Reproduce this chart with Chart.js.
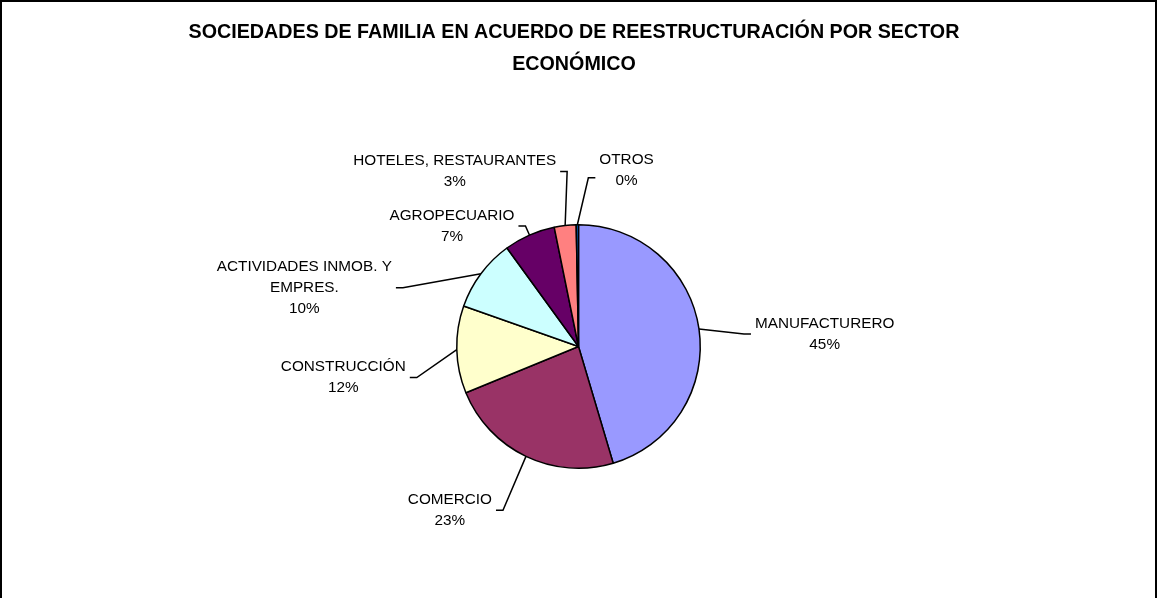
<!DOCTYPE html>
<html>
<head>
<meta charset="utf-8">
<script src="https://cdn.jsdelivr.net/npm/chart.js@4"></script>
<style>
  html, body { margin: 0; padding: 0; background: #fff; }
  #wrap { position: relative; width: 1157px; height: 598px; }
</style>
</head>
<body>
<div id="wrap"><canvas id="myChart"></canvas></div>
<script>
const titleLines = [
  'SOCIEDADES DE FAMILIA EN ACUERDO DE REESTRUCTURACIÓN POR SECTOR',
  'ECONÓMICO',
];

const sectors = [
  ['MANUFACTURERO'],
  ['COMERCIO'],
  ['CONSTRUCCIÓN'],
  ['ACTIVIDADES INMOB. Y', 'EMPRES.'],
  ['AGROPECUARIO'],
  ['HOTELES, RESTAURANTES'],
  ['OTROS'],
];

const shares = [45.4, 23.4, 11.6, 9.6, 6.8, 2.9, 0.3];

const sliceColors = ['#9999FF', '#993366', '#FFFFCC', '#CCFFFF', '#660066', '#FF8080', '#0066CC'];

// leader line bend (from the slice edge) and side where the text goes
const leaders = [
  {dx: 45, dy: 5, side: 1},
  {dx: -23, dy: 54, side: -1},
  {dx: -40, dy: 28, side: -1},
  {dx: -78, dy: 14, side: -1},
  {dx: -4, dy: -9, side: -1},
  {dx: 2, dy: -54, side: -1},
  {dx: 11, dy: -47, side: 1, ty: -7},
];

const pieLabels = {
  id: 'pieLabels',
  afterDatasetsDraw(chart) {
    const ctx = chart.ctx;
    const total = shares.reduce((a, b) => a + b, 0);
    const arcs = chart.getDatasetMeta(0).data;
    ctx.save();
    ctx.font = '15.3px "Liberation Sans", Arial, sans-serif';
    ctx.strokeStyle = '#000';
    ctx.fillStyle = '#000';
    ctx.lineWidth = 1.5;
    arcs.forEach((arc, i) => {
      const p = arc.getProps(['x', 'y', 'startAngle', 'endAngle', 'outerRadius'], true);
      const mid = (p.startAngle + p.endAngle) / 2;
      const ax = p.x + Math.cos(mid) * p.outerRadius;
      const ay = p.y + Math.sin(mid) * p.outerRadius;
      const L = leaders[i];
      const ex = ax + L.dx, ey = ay + L.dy;
      const sx = ex + L.side * 7;
      ctx.beginPath();
      ctx.moveTo(ax, ay);
      ctx.lineTo(ex, ey);
      ctx.lineTo(sx, ey);
      ctx.stroke();

      const lines = sectors[i].concat([Math.round(shares[i] / total * 100) + '%']);
      const w = Math.max(...lines.map(t => ctx.measureText(t).width));
      const cx = sx + L.side * (4 + w / 2);
      const cy = ey + (L.ty || 0);
      const lh = 21;
      ctx.textAlign = 'center';
      ctx.textBaseline = 'middle';
      lines.forEach((t, k) => ctx.fillText(t, cx, cy + (k - (lines.length - 1) / 2) * lh));
    });

    // title
    ctx.font = 'bold 19.7px "Liberation Sans", Arial, sans-serif';
    ctx.textAlign = 'center';
    ctx.textBaseline = 'middle';
    titleLines.forEach((t, k) => ctx.fillText(t, 574, 33 + k * 32));

    // frame
    ctx.lineWidth = 2;
    ctx.strokeRect(1, 1, 1155, 640);
    ctx.restore();
  }
};

const data = {
  labels: sectors,
  datasets: [{
    data: shares,
    backgroundColor: sliceColors,
    borderColor: '#000',
    borderWidth: 1.5,
  }]
};

const config = {
  type: 'pie',
  data: data,
  options: {
    responsive: true,
    maintainAspectRatio: false,
    animation: false,
    layout: { padding: { top: 224, bottom: 129, left: 0, right: 0 } },
    plugins: {
      legend: { display: false },
      tooltip: { enabled: false },
      title: { display: false },
    }
  },
  plugins: [pieLabels]
};

const myChart = new Chart(document.getElementById('myChart'), config);
</script>
</body>
</html>
